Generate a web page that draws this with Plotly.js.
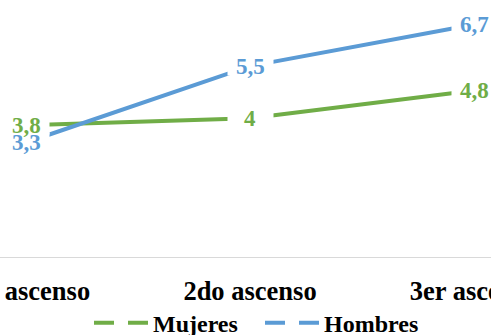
<!DOCTYPE html>
<html>
<head>
<meta charset="utf-8">
<script src="https://cdn.plot.ly/plotly-3.0.1.min.js"></script>
<style>html,body{margin:0;padding:0;background:#fff;}#chart{width:491px;height:335px;}</style>
</head>
<body>
<div id="chart"></div>
<script>
const categories = ['1er ascenso', '2do ascenso', '3er ascenso'];
const mujeres = [3.8, 4, 4.8];
const hombres = [3.3, 5.5, 6.7];
const mujeresLabels = ['3,8', '4', '4,8'];
const hombresLabels = ['3,3', '5,5', '6,7'];

const GREEN = '#70AD47';
const BLUE = '#5B9BD5';
const FONT = '"Liberation Serif"';

const idx = categories.map((c, i) => i);

const traces = [
  {x: idx, y: mujeres, type: 'scatter', mode: 'lines', line: {color: GREEN, width: 4}, showlegend: false, hoverinfo: 'skip'},
  {x: idx, y: hombres, type: 'scatter', mode: 'lines', line: {color: BLUE, width: 4}, showlegend: false, hoverinfo: 'skip'},
  {x: [null], y: [null], type: 'scatter', mode: 'lines', name: 'Mujeres', line: {color: GREEN, width: 4, dash: '20px,14px'}},
  {x: [null], y: [null], type: 'scatter', mode: 'lines', name: 'Hombres', line: {color: BLUE, width: 4, dash: '20px,14px'}}
];

const annotations = [];
const series = [[mujeres, mujeresLabels, GREEN], [hombres, hombresLabels, BLUE]];
series.forEach(([vals]) => {
  vals.forEach((v, i) => {
    annotations.push({x: i, y: v, xref: 'x', yref: 'y', text: ' ', showarrow: false,
      xanchor: 'center', yanchor: 'middle', width: 45, height: 18, bgcolor: '#ffffff', borderpad: 0,
      font: {size: 10}});
  });
});
series.forEach(([vals, labels, color]) => {
  vals.forEach((v, i) => {
    annotations.push({x: i, y: v, xref: 'x', yref: 'y', text: labels[i], showarrow: false,
      xanchor: 'center', yanchor: 'middle',
      font: {family: FONT, size: 23, color: color, weight: 'bold'}});
  });
});

const layout = {
  width: 491, height: 335,
  margin: {l: 0, r: 0, t: 0, b: 78, pad: 0, autoexpand: false},
  paper_bgcolor: '#ffffff', plot_bgcolor: '#ffffff',
  showlegend: true,
  xaxis: {
    range: [-26 / 224, 465 / 224],
    tickvals: idx, ticktext: categories,
    showgrid: false, zeroline: false,
    showline: true, linecolor: '#D9D9D9', linewidth: 1,
    ticks: '', ticklabeloverflow: 'allow', ticklabelstandoff: 10, automargin: false,
    tickfont: {family: FONT, size: 26.5, color: '#000000', weight: 'bold'},
    fixedrange: true
  },
  yaxis: {
    range: [0, 257 / 34.7],
    showgrid: false, zeroline: false, showline: false, showticklabels: false, ticks: '',
    fixedrange: true
  },
  legend: {
    orientation: 'h', x: 88 / 491, xanchor: 'left', y: -0.257, yanchor: 'middle',
    font: {family: FONT, size: 24, color: '#000000', weight: 'bold'},
    itemwidth: 55, entrywidth: 101, bgcolor: 'rgba(0,0,0,0)'
  },
  annotations: annotations
};

Plotly.newPlot('chart', traces, layout, {displayModeBar: false, staticPlot: true}).then(function (gd) {
  gd.querySelectorAll('.legend path.js-line').forEach(function (p) {
    p.setAttribute('d', 'M6,0h54');
  });
});
</script>
</body>
</html>
